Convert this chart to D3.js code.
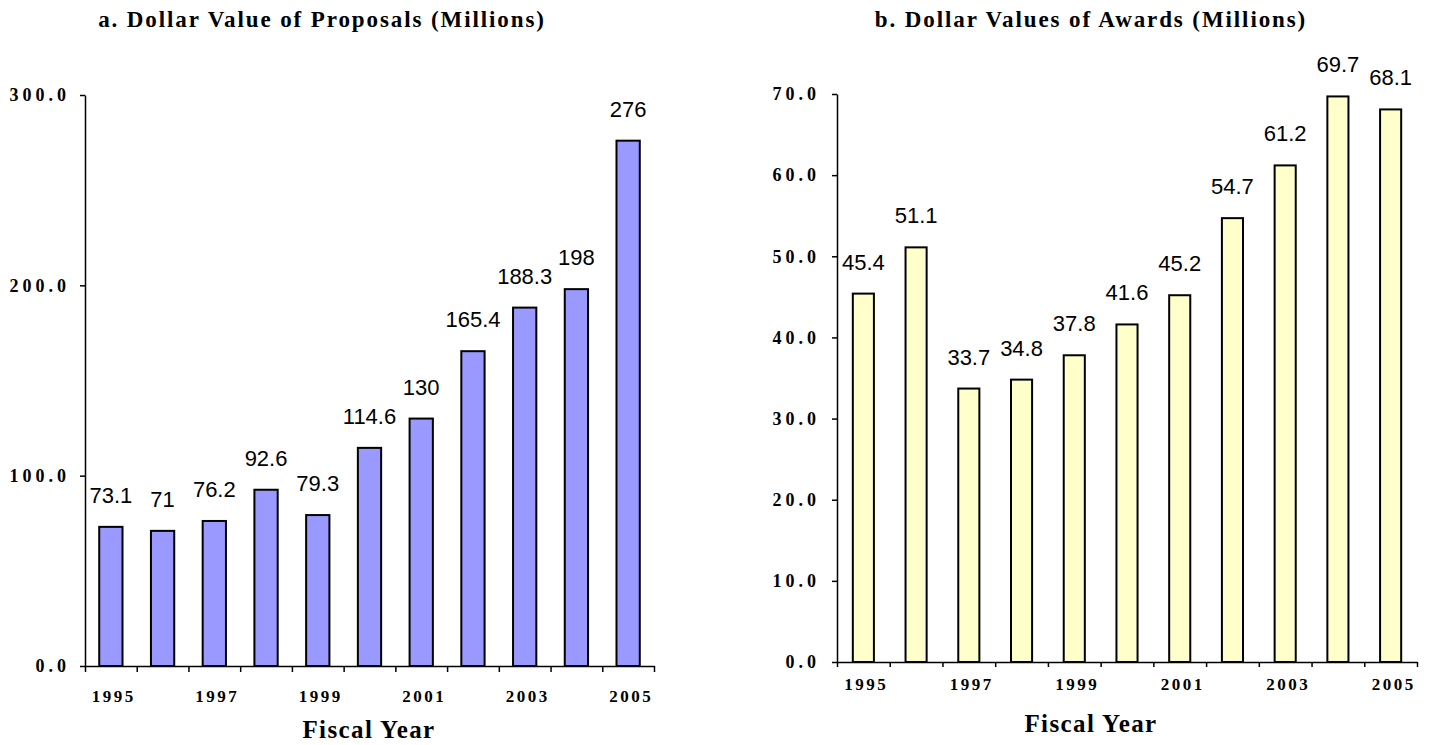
<!DOCTYPE html>
<html lang="en">
<head>
<meta charset="UTF-8">
<title>Proposals and Awards</title>
<style>
  body { margin: 0; background: #fff; }
  .tick text { font-family: "Liberation Serif", "Times New Roman", serif; font-weight: bold; fill: #000; }
  .title, .xtitle { font-family: "Liberation Serif", "Times New Roman", serif; font-weight: bold; }
  .val { font-family: "Liberation Sans", Arial, sans-serif; font-size: 22px; }
</style>
</head>
<body>
<script src="https://cdn.jsdelivr.net/npm/d3@7"></script>
<script>
var years = [1995,1996,1997,1998,1999,2000,2001,2002,2003,2004,2005]
var proposals = [73.1,71,76.2,92.6,79.3,114.6,130,165.4,188.3,198,276]
var awards = [45.4,51.1,33.7,34.8,37.8,41.6,45.2,54.7,61.2,69.7,68.1]
var proposalTicks = [0,100,200,300]
var awardTicks = [0,10,20,30,40,50,60,70]

var svg = d3.select('body').append('svg').attr('width',1431).attr('height',745)

function panel(o){
    var x = d3.scaleBand().domain(years).range([o.left,o.right]).paddingInner(o.pad).paddingOuter(o.pad/2)
    var edge = d3.scaleLinear().domain([0,years.length]).range([o.left,o.right])
    var y = d3.scaleLinear().domain([0,o.max]).range([o.bottom,o.top])

    svg.append('text').attr('class','title')
        .attr('x',o.titleX).attr('y',27).attr('text-anchor','middle')
        .style('font-size','23px').style('letter-spacing','1.9px')
        .text(o.title)

    svg.selectAll(null).data(o.values).enter().append('rect')
        .attr('x',(d,i)=>x(years[i]))
        .attr('y',d=>y(d))
        .attr('width',x.bandwidth())
        .attr('height',d=>o.bottom-y(d))
        .attr('fill',o.fill).attr('stroke','#000').attr('stroke-width',2)

    svg.selectAll(null).data(o.values).enter().append('text').attr('class','val')
        .attr('x',(d,i)=>x(years[i])+x.bandwidth()/2)
        .attr('y',d=>y(d)-24)
        .attr('text-anchor','middle')
        .text(d=>d)

    var ya = svg.append('g').attr('transform','translate('+o.left+',0)')
        .call(d3.axisLeft(y).tickValues(o.ticks).tickFormat(d3.format('.1f')).tickSize(5).tickSizeOuter(0).tickPadding(o.ypad))
    ya.selectAll('text').style('font-size','18px').style('letter-spacing','4px')

    var xt = svg.append('g').attr('transform','translate(0,'+o.bottom+')')
        .call(d3.axisBottom(edge).ticks(years.length).tickFormat('').tickSize(o.tick).tickSizeOuter(0))
    var xl = svg.append('g').attr('transform','translate(3,'+o.bottom+')')
        .call(d3.axisBottom(x).tickSize(0).tickPadding(o.xpad).tickFormat(d=>d%2 ? d : ''))
    xl.select('.domain').remove()
    xl.selectAll('text').style('font-size','17px').style('letter-spacing','2.5px')

    svg.selectAll('.domain').attr('stroke','#000').attr('stroke-width',1.5)
    svg.selectAll('.tick line').attr('stroke','#000').attr('stroke-width',1.5)

    svg.append('text').attr('class','xtitle')
        .attr('x',o.titleX2).attr('y',o.xtitleY).attr('text-anchor','middle')
        .style('font-size','25px').style('letter-spacing','1.4px')
        .text('Fiscal Year')
}

panel({title:'a. Dollar Value of Proposals (Millions)', values:proposals, ticks:proposalTicks, max:300,
       left:85, right:654, top:95, bottom:666, pad:0.55, fill:'#9999ff',
       titleX:322, titleX2:369, xtitleY:738, tick:6, ypad:10, xpad:24})
panel({title:'b. Dollar Values of Awards (Millions)', values:awards, ticks:awardTicks, max:70,
       left:837, right:1417, top:94, bottom:662, pad:0.6, fill:'#ffffcc',
       titleX:1091, titleX2:1091, xtitleY:732, tick:5, ypad:12, xpad:16})
</script>
</body>
</html>
